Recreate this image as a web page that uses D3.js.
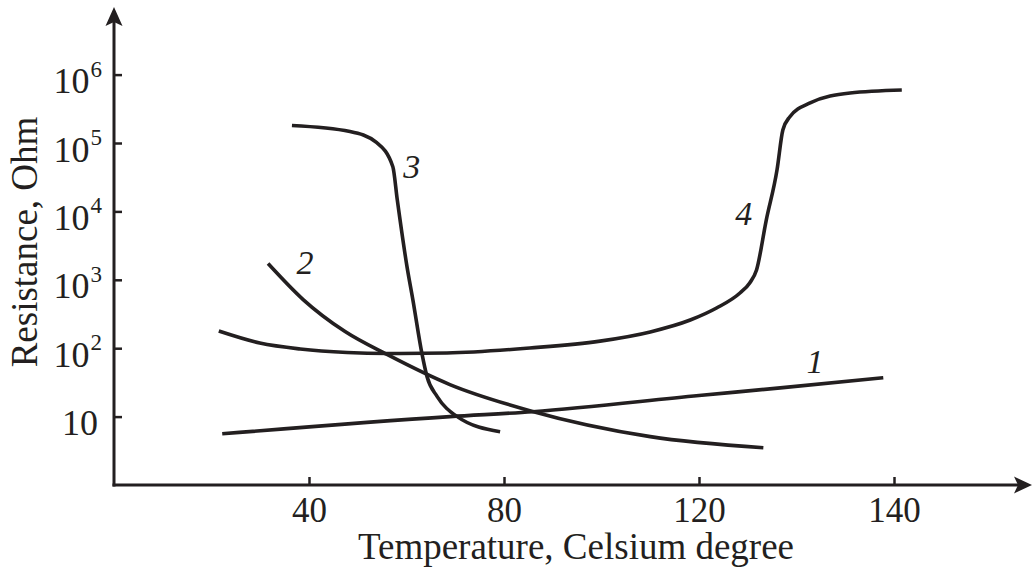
<!DOCTYPE html>
<html>
<head>
<meta charset="utf-8">
<script src="https://cdn.jsdelivr.net/npm/d3@7"></script>
<style>
  html, body { margin: 0; padding: 0; background: #fff; }
  svg { display: block; }
  text { font-family: "Liberation Serif", "Times New Roman", serif; fill: #231f20; }
</style>
</head>
<body>
<svg id="chart" width="1032" height="568"></svg>
<script>
// Axis tick labels: temperature (°C) and resistance decades (Ohm)
const xTicks = [40, 80, 120, 140];
const yTicks = [10, 1e2, 1e3, 1e4, 1e5, 1e6];

// Resistance vs temperature, points are [temperature, resistance]
const curve1 = [[22.2, 5.6], [68.9, 10], [85.9, 11.8], [120, 20.3], [128.6, 26.5], [138.9, 37]];
const curve2 = [[31.6, 1730], [38.8, 514], [47.4, 175], [56, 81], [68.9, 29.4], [85.3, 12.2], [110, 5.1], [126.6, 3.5]];
const curve3 = [[36.5, 180000], [48.4, 147000], [53.9, 101000], [57.2, 45000], [58.1, 14900], [60.1, 1560],
                [61.3, 514], [63.2, 81], [64.2, 38.5], [66.3, 19.6], [70.4, 10], [79.2, 6]];
const curve4 = [[21.5, 178], [29.9, 119], [38.2, 97.3], [47.8, 86.5], [56, 83.7], [68.3, 85.1], [85.3, 100.7],
                [99.7, 127], [110, 173], [118.2, 258], [121.8, 387], [124.2, 641], [125.2, 898], [125.9, 1390],
                [126.9, 7480], [128, 40300], [128.6, 155000], [129.3, 240000], [131.4, 385000], [135.5, 538000],
                [140.8, 596000]];

// Curve numbers, anchored in data coordinates
const curveNames = ["1", "2", "3", "4"];
const nameAnchors = [[131.9, 64], [39.2, 1845], [61.1, 45300], [124.6, 9600]];

const ink = "#231f20";
const left = 114, bottom = 485, step = 195, decade = 68.4;

const svg = d3.select("#chart");

// Evenly spaced temperature ticks starting from the origin
const x = d3.scaleLinear()
  .domain([0, ...xTicks])
  .range(d3.range(xTicks.length + 1).map(i => left + i * step));

const y = d3.scaleLog()
  .domain([1, 1e6])
  .range([bottom, bottom - 6 * decade]);

// Axis lines with arrowheads
svg.append("line")
  .attr("x1", left - 1.5).attr("x2", 1019).attr("y1", bottom).attr("y2", bottom)
  .attr("stroke", ink).attr("stroke-width", 3);
svg.append("path")
  .attr("d", `M1032,${bottom} L1014,${bottom - 8.5} L1018,${bottom} L1014,${bottom + 8.5} Z`)
  .attr("fill", ink);
svg.append("line")
  .attr("x1", left).attr("x2", left).attr("y1", bottom + 1.5).attr("y2", 22)
  .attr("stroke", ink).attr("stroke-width", 3);
svg.append("path")
  .attr("d", `M${left},7 L${left - 8.5},26 L${left},22 L${left + 8.5},26 Z`)
  .attr("fill", ink);

// X axis ticks and labels
const gx = svg.append("g")
  .attr("transform", `translate(0,${bottom})`)
  .call(d3.axisBottom(x).tickValues(xTicks).tickSize(-8).tickSizeOuter(0).tickPadding(12).tickFormat(d3.format("d")));
gx.select(".domain").remove();
gx.selectAll(".tick line").attr("stroke", ink).attr("stroke-width", 2.5);
gx.selectAll(".tick text").attr("font-size", 35);

// Y axis ticks and power-of-ten labels
const gy = svg.append("g")
  .attr("transform", `translate(${left},0)`)
  .call(d3.axisLeft(y).tickValues(yTicks).tickSize(-8).tickSizeOuter(0).tickFormat(() => ""));
gy.select(".domain").remove();
gy.selectAll(".tick line").attr("stroke", ink).attr("stroke-width", 2.5);
gy.selectAll(".tick text").each(function (d) {
  const t = d3.select(this)
    .attr("x", d === 10 ? -16 : -12)
    .attr("dy", "0.5em")
    .attr("font-size", 36)
    .attr("text-anchor", "end")
    .text("10");
  const e = Math.round(Math.log10(d));
  if (e > 1) {
    t.append("tspan").attr("dy", "-0.72em").attr("dx", 1).attr("font-size", 23).text(String(e));
  }
});

// Curves
const line = d3.line()
  .x(d => x(d[0]))
  .y(d => y(d[1]))
  .curve(d3.curveMonotoneX);

svg.append("g")
  .selectAll("path")
  .data([curve1, curve2, curve3, curve4])
  .join("path")
  .attr("d", line)
  .attr("fill", "none")
  .attr("stroke", ink)
  .attr("stroke-width", 3.6)
  .attr("stroke-linejoin", "round");

// Curve numbers
svg.append("g")
  .selectAll("text")
  .data(curveNames)
  .join("text")
  .attr("x", (d, i) => x(nameAnchors[i][0]))
  .attr("y", (d, i) => y(nameAnchors[i][1]))
  .attr("dy", "0.35em")
  .attr("text-anchor", "middle")
  .attr("font-style", "italic")
  .attr("font-size", 34)
  .text(d => d);

// Axis titles
svg.append("text")
  .attr("x", 576).attr("y", 559)
  .attr("text-anchor", "middle")
  .attr("font-size", 37)
  .text("Temperature, Celsium degree");

svg.append("text")
  .attr("transform", "translate(37,242) rotate(-90)")
  .attr("text-anchor", "middle")
  .attr("font-size", 37)
  .text("Resistance, Ohm");
</script>
</body>
</html>
